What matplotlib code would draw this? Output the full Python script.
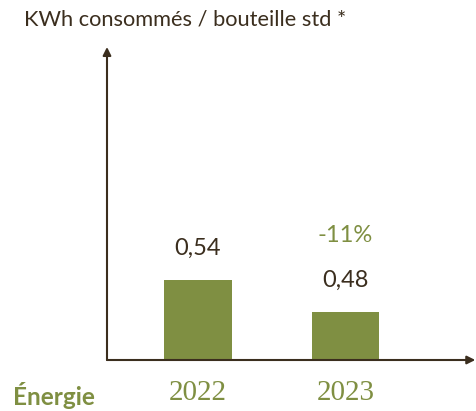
import matplotlib.pyplot as plt
import matplotlib.transforms as mtransforms

# data
years = ['2022', '2023']
kwh = [0.54, 0.48]
kwh_labels = ['0,54', '0,48']
evolution = '-11%'

BROWN = '#3b2e1e'
GREEN = '#7f8f42'

fig = plt.figure(figsize=(4.76, 4.11), dpi=100)
W, H = 476, 411
# axes box in pixels: x 107..476, y 47..360 (from top)
ax = fig.add_axes([107 / W, (H - 360) / H, (476 - 107) / W, (360 - 47) / H])

pos = list(range(len(years)))
ax.bar(pos, kwh, width=0.46, color=GREEN, zorder=2)
ax.set_xlim(-0.617, 1.885)
ax.set_ylim(0.39, 0.98)
ax.axis('off')

# axes with arrows
ax.annotate('', xy=(0, 1.0), xytext=(0, 0), xycoords='axes fraction',
            arrowprops=dict(arrowstyle='-|>', color=BROWN, lw=1.5,
                            mutation_scale=12, shrinkA=0, shrinkB=0))
ax.annotate('', xy=(0.998, 0), xytext=(0, 0), xycoords='axes fraction',
            arrowprops=dict(arrowstyle='-|>', color=BROWN, lw=1.5,
                            mutation_scale=12, shrinkA=0, shrinkB=0))

# value labels
for p, v, lab in zip(pos, kwh, kwh_labels):
    ax.annotate(lab, xy=(p, v), xytext=(0, 32), textcoords='offset pixels',
                ha='center', va='center', fontsize=17, color=BROWN,
                family='Lato')
ax.annotate(evolution, xy=(pos[1], kwh[1]), xytext=(0, 77),
            textcoords='offset pixels', ha='center', va='center',
            fontsize=17, color=GREEN, family='Lato')

# year labels
trans = mtransforms.blended_transform_factory(ax.transData, ax.transAxes)
for p, y in zip(pos, years):
    ax.text(p, -0.105, y, transform=trans, ha='center', va='center',
            fontsize=21, color=GREEN, family='Liberation Serif')

fig.text(13 / W, 1 - 395 / H, 'Énergie', ha='left', va='center',
         fontsize=17.5, fontweight='bold', color=GREEN, family='Lato')
fig.text(24 / W, 1 - 20 / H, 'KWh consommés / bouteille std *', ha='left',
         va='center', fontsize=15.7, color=BROWN, family='Lato')

fig.savefig('out.png', dpi=100)
